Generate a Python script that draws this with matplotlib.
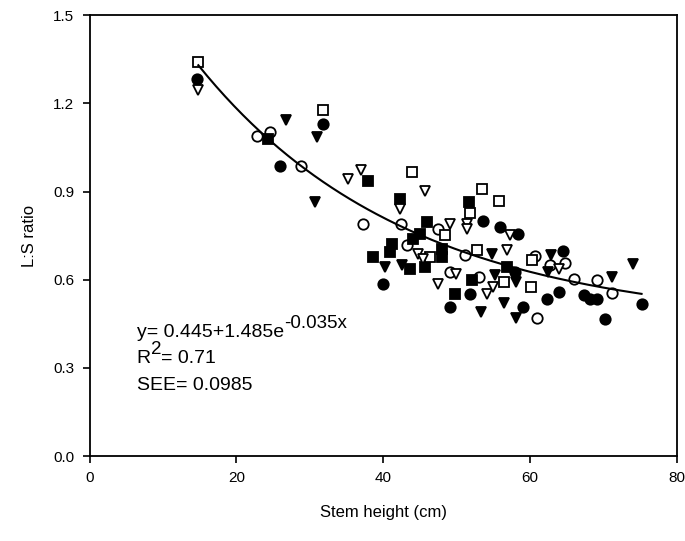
import numpy as np
import matplotlib
matplotlib.use('Agg')
import matplotlib.pyplot as plt

plt.rcParams['font.family'] = ['Liberation Sans', 'DejaVu Sans']

# data: (stem height cm, L:S ratio)
circle_filled = [(14.6, 1.282), (25.9, 0.987), (31.8, 1.128), (40.0, 0.585), (49.1, 0.506),
                 (51.8, 0.553), (53.6, 0.800), (55.9, 0.778), (58.4, 0.757), (58.0, 0.627),
                 (59.0, 0.506), (64.5, 0.698), (62.3, 0.536), (63.9, 0.559), (67.4, 0.548),
                 (68.2, 0.534), (69.1, 0.536), (75.2, 0.517), (70.2, 0.466)]
circle_open = [(22.8, 1.089), (24.6, 1.101), (28.8, 0.987), (37.2, 0.789), (42.4, 0.791),
               (43.3, 0.718), (47.5, 0.774), (51.2, 0.684), (49.1, 0.627), (53.0, 0.610),
               (60.7, 0.680), (62.7, 0.650), (64.8, 0.658), (66.0, 0.604), (69.1, 0.599),
               (71.2, 0.556), (60.9, 0.468)]
square_filled = [(24.3, 1.078), (37.9, 0.936), (42.3, 0.876), (45.9, 0.797), (51.7, 0.865),
                 (45.0, 0.757), (44.0, 0.737), (41.2, 0.723), (40.9, 0.695), (38.6, 0.676),
                 (43.7, 0.638), (45.7, 0.644), (48.0, 0.706), (48.0, 0.678), (49.8, 0.553),
                 (52.1, 0.599), (56.9, 0.644)]
square_open = [(14.8, 1.339), (31.8, 1.177), (43.9, 0.965), (53.5, 0.907), (55.8, 0.867),
               (51.8, 0.828), (46.4, 0.678), (48.4, 0.752), (52.8, 0.701), (56.4, 0.593),
               (60.1, 0.576), (60.3, 0.667)]
tri_filled = [(26.8, 1.143), (31.0, 1.084), (30.7, 0.863), (40.2, 0.644), (42.5, 0.650),
              (54.8, 0.689), (53.3, 0.491), (56.4, 0.522), (55.2, 0.616), (58.1, 0.593),
              (58.1, 0.468), (62.8, 0.684), (62.5, 0.627), (71.2, 0.610), (74.1, 0.653)]
tri_open = [(14.8, 1.245), (35.2, 0.944), (37.0, 0.973), (45.7, 0.902), (42.3, 0.842),
            (44.8, 0.689), (45.4, 0.672), (49.1, 0.791), (51.4, 0.791), (51.4, 0.774),
            (56.8, 0.701), (49.9, 0.621), (47.5, 0.585), (54.1, 0.551), (55.0, 0.576),
            (57.3, 0.752), (63.9, 0.635)]

# fitted curve y = a + b*exp(c*x)
fit_a, fit_b, fit_c = 0.445, 1.485, -0.035
fit_range = (14.8, 75.2)

fig = plt.figure(figsize=(6.85, 5.41), dpi=100)
ax = fig.add_axes([0.131, 0.157, 0.857, 0.815])

series = [
    (circle_filled, 'o', 'black'),
    (circle_open, 'o', 'white'),
    (square_filled, 's', 'black'),
    (square_open, 's', 'white'),
    (tri_filled, 'v', 'black'),
    (tri_open, 'v', 'white'),
]
for pts, mk, fc in series:
    xs = [p[0] for p in pts]
    ys = [p[1] for p in pts]
    ax.plot(xs, ys, linestyle='none', marker=mk, markersize=7.5,
            markerfacecolor=fc, markeredgecolor='black', markeredgewidth=1.3)

xf = np.linspace(fit_range[0], fit_range[1], 200)
ax.plot(xf, fit_a + fit_b * np.exp(fit_c * xf), color='black', lw=1.5)

# equation block, superscripts drawn as separate texts
fs = 14
t1 = ax.text(6.4, 0.405, 'y= 0.445+1.485e', fontsize=fs)
ax.annotate('-0.035x', xy=(1, 0.55), xycoords=t1, fontsize=fs - 0.5, va='bottom')
t2 = ax.text(6.4, 0.315, 'R', fontsize=fs)
t2s = ax.annotate('2', xy=(1, 0.55), xycoords=t2, fontsize=fs - 0.5, va='bottom')
ax.annotate('= 0.71', xy=(1, 0), xycoords=(t2s, t2), fontsize=fs, va='bottom')
ax.text(6.4, 0.225, 'SEE= 0.0985', fontsize=fs)

ax.set_xlim(0, 80)
ax.set_ylim(0, 1.5)
ax.set_xticks([0, 20, 40, 60, 80])
ax.set_yticks([0.0, 0.3, 0.6, 0.9, 1.2, 1.5])
ax.set_yticklabels(['0.0', '0.3', '0.6', '0.9', '1.2', '1.5'])
ax.tick_params(direction='out', length=5, width=1.2, labelsize=11, pad=6)
for s in ax.spines.values():
    s.set_linewidth(1.3)

ax.set_xlabel('Stem height (cm)', fontsize=12, labelpad=14)
ax.set_ylabel('L:S ratio', fontsize=12, labelpad=12)

fig.savefig('out.png', dpi=100)
